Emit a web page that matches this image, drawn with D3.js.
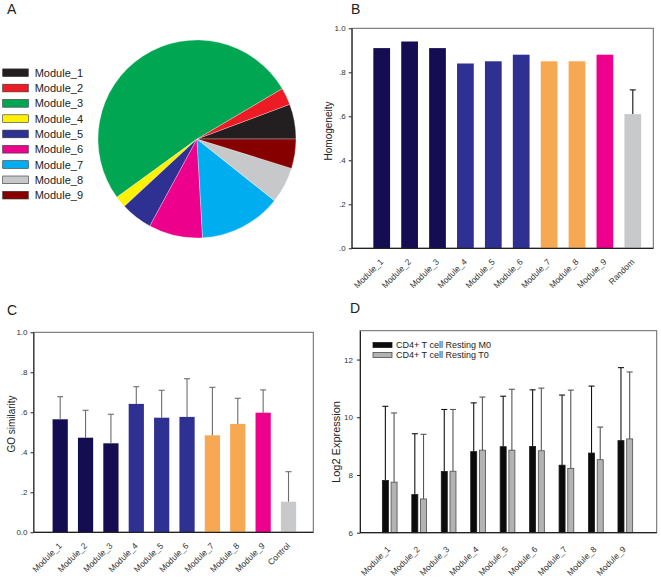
<!DOCTYPE html>
<html>
<head>
<meta charset="utf-8">
<script src="https://cdn.jsdelivr.net/npm/d3@7"></script>
<style>
  body { margin: 0; background: #fff; }
  svg { font-family: "Liberation Sans", Arial, sans-serif; }
  .axis text { fill: #333; }
  .panel-label { font-size: 14px; fill: #222; }
  .ylab { font-size: 10px; fill: #222; }
</style>
</head>
<body>
<svg width="661" height="580"></svg>
<script>
// ---- data ----
const modules = ["Module_1", "Module_2", "Module_3", "Module_4", "Module_5",
                 "Module_6", "Module_7", "Module_8", "Module_9"];

// A: module sizes (share of the pie)
const moduleSizes = [57, 28, 515, 19, 52, 88, 134, 59, 48];

// B: homogeneity
const homoCats = modules.concat(["Random"]);
const homoValues = [0.91, 0.94, 0.91, 0.84, 0.85, 0.88, 0.85, 0.85, 0.88, 0.61];
const homoErrTop = [null, null, null, null, null, null, null, null, null, 0.72];
const homoTicks = [0, 0.2, 0.4, 0.6, 0.8, 1.0];
const homoTickLabels = [".0", ".2", ".4", ".6", ".8", "1.0"];

// C: GO similarity
const goCats = modules.concat(["Control"]);
const goValues = [0.565, 0.473, 0.445, 0.642, 0.573, 0.577, 0.485, 0.542, 0.598, 0.153];
const goErrTop = [0.678, 0.61, 0.59, 0.728, 0.71, 0.768, 0.725, 0.67, 0.712, 0.303];
const goTicks = [0, 0.2, 0.4, 0.6, 0.8, 1.0];
const goTickLabels = ["0.0", ".2", ".4", ".6", ".8", "1.0"];

// D: log2 expression
const exprSeries = ["CD4+ T cell Resting M0", "CD4+ T cell Resting T0"];
const exprM0 = [7.81, 7.32, 8.12, 8.81, 8.98, 8.99, 8.34, 8.76, 9.19];
const exprM0Err = [10.38, 9.43, 10.27, 10.5, 10.73, 10.95, 10.77, 11.08, 11.72];
const exprT0 = [7.75, 7.17, 8.13, 8.86, 8.86, 8.84, 8.23, 8.53, 9.25];
const exprT0Err = [10.15, 9.41, 10.27, 10.7, 10.97, 11.01, 10.94, 9.66, 11.57];
const exprTicks = [6, 8, 10, 12];
const exprTickLabels = ["6", "8", "10", "12"];

// ---- styles ----
const pieColors = ["#231f20", "#ed1c24", "#00a651", "#fff200", "#2e3192",
                   "#ec008c", "#00aeef", "#c7c8ca", "#860000"];
const barColors = ["#150d52", "#150d52", "#150d52", "#2e3192", "#2e3192",
                   "#2e3192", "#f7a853", "#f7a853", "#ec008c", "#c8c9cb"];

const svg = d3.select("svg");

// ================= A : pie =================
svg.append("text").attr("class", "panel-label").attr("x", 7).attr("y", 14).text("A");

const pie = d3.pie().sort(null)
    .startAngle(Math.PI / 2)
    .endAngle(Math.PI / 2 - 2 * Math.PI);
const arc = d3.arc().innerRadius(0).outerRadius(99);

const gPie = svg.append("g").attr("transform", "translate(197,139)");
gPie.selectAll("path")
    .data(pie(moduleSizes))
    .enter()
    .append("path")
        .attr("d", arc)
        .attr("fill", (d, i) => pieColors[i])
        .attr("stroke", "#fff")
        .attr("stroke-width", 0.3);

const legA = svg.append("g");
const legRow = legA.selectAll("g")
    .data(modules)
    .enter()
    .append("g")
        .attr("transform", (d, i) => "translate(0," + (72.8 + i * 15.3) + ")");
legRow.append("rect")
    .attr("x", 2.7).attr("y", -3.9)
    .attr("width", 25.6).attr("height", 7.7)
    .attr("fill", (d, i) => pieColors[i])
    .attr("stroke", "#333").attr("stroke-width", 0.6);
legRow.append("text")
    .attr("x", 34.7).attr("y", 3.9)
    .style("font-size", "11px").style("fill", "#222")
    .text(d => d);

// ================= bar panels B and C =================
function barPanel(o) {
    const x = d3.scaleBand()
        .domain(o.cats)
        .range(o.xRange)
        .paddingInner(0.4)
        .paddingOuter(0.2);
    const y = d3.scaleLinear()
        .domain([0, 1])
        .range([o.bottom, o.top]);

    const g = svg.append("g");

    // frame
    g.append("rect")
        .attr("x", o.left).attr("y", o.top)
        .attr("width", o.right - o.left).attr("height", o.bottom - o.top)
        .attr("fill", "none").attr("stroke", "#666").attr("stroke-width", 1);

    g.selectAll(".bar")
        .data(o.values)
        .enter()
        .append("rect")
            .attr("class", "bar")
            .attr("x", (d, i) => x(o.cats[i]))
            .attr("width", x.bandwidth())
            .attr("y", d => y(d))
            .attr("height", d => y(0) - y(d))
            .attr("fill", (d, i) => barColors[i]);

    // error bars (upper only)
    const errs = o.errTop.map((e, i) => ({ e: e, v: o.values[i], c: o.cats[i] }))
        .filter(d => d.e != null);
    const eg = g.selectAll(".err")
        .data(errs)
        .enter()
        .append("g")
            .attr("class", "err")
            .attr("stroke", o.errColor)
            .attr("stroke-width", 1.1);
    eg.append("line")
        .attr("x1", d => x(d.c) + x.bandwidth() / 2)
        .attr("x2", d => x(d.c) + x.bandwidth() / 2)
        .attr("y1", d => y(d.v))
        .attr("y2", d => y(d.e));
    eg.append("line")
        .attr("x1", d => x(d.c) + x.bandwidth() / 2 - 3)
        .attr("x2", d => x(d.c) + x.bandwidth() / 2 + 3)
        .attr("y1", d => y(d.e))
        .attr("y2", d => y(d.e));

    // y axis
    g.append("g")
        .attr("class", "axis")
        .attr("transform", "translate(" + o.left + ",0)")
        .call(d3.axisLeft(y)
            .tickValues(o.ticks)
            .tickFormat((d, i) => o.tickLabels[i])
            .tickSize(3)
            .tickSizeOuter(0)
            .tickPadding(3))
        .call(a => a.select(".domain").attr("stroke", "#222"))
        .call(a => a.selectAll("line").attr("stroke", "#222"))
        .selectAll("text").style("font-size", "8px");

    // x axis
    const xa = g.append("g")
        .attr("class", "axis")
        .attr("transform", "translate(0," + o.bottom + ")")
        .call(d3.axisBottom(x).tickSize(0).tickSizeOuter(0));
    xa.select(".domain").remove();
    xa.selectAll("text")
        .style("font-size", "8.5px")
        .attr("y", 0).attr("dy", "0.35em")
        .attr("text-anchor", "end")
        .attr("transform", "translate(0,12) rotate(-45)");
    g.append("line")
        .attr("x1", o.left).attr("x2", o.right)
        .attr("y1", o.bottom).attr("y2", o.bottom)
        .attr("stroke", "#222").attr("stroke-width", 1.2);

    // axis title
    g.append("text")
        .attr("class", "ylab")
        .attr("text-anchor", "middle")
        .attr("transform", "translate(" + o.titleX + "," + o.titleY + ") rotate(-90)")
        .attr("dy", "0.35em")
        .text(o.title);
}

svg.append("text").attr("class", "panel-label").attr("x", 351).attr("y", 14).text("B");
barPanel({
    cats: homoCats, values: homoValues, errTop: homoErrTop,
    ticks: homoTicks, tickLabels: homoTickLabels,
    left: 351.7, right: 653.3, top: 28.3, bottom: 248.3,
    xRange: [367.75, 646.75],
    errColor: "#111",
    title: "Homogeneity", titleX: 328, titleY: 131
});

svg.append("text").attr("class", "panel-label").attr("x", 7).attr("y", 315).text("C");
barPanel({
    cats: goCats, values: goValues, errTop: goErrTop,
    ticks: goTicks, tickLabels: goTickLabels,
    left: 33.5, right: 313.3, top: 332.3, bottom: 532.3,
    xRange: [47.5, 301.2],
    errColor: "#6d6d6d",
    title: "GO similarity", titleX: 11, titleY: 424
});

// ================= D : grouped bars =================
svg.append("text").attr("class", "panel-label").attr("x", 350).attr("y", 313).text("D");
(function () {
    const left = 360, right = 656.7, top = 330.7, bottom = 532.7;
    const x0 = d3.scaleBand()
        .domain(modules)
        .range([375, 640.05])
        .paddingInner(0.4)
        .paddingOuter(0.2);
    const x1 = d3.scaleBand()
        .domain(exprSeries)
        .range([0, x0.bandwidth()])
        .paddingInner(0.31)
        .paddingOuter(0.17);
    const y = d3.scaleLinear().domain([6, 13]).range([bottom, top]);

    const fills = ["#0b0b0b", "#b3b3b3"];
    const strokes = ["#1a1a1a", "#4d4d4d"];
    const errStroke = ["#111", "#555"];

    const g = svg.append("g");
    g.append("rect")
        .attr("x", left).attr("y", top)
        .attr("width", right - left).attr("height", bottom - top)
        .attr("fill", "none").attr("stroke", "#666").attr("stroke-width", 1);

    const rows = modules.map((m, i) => [
        { m: m, s: exprSeries[0], k: 0, v: exprM0[i], e: exprM0Err[i] },
        { m: m, s: exprSeries[1], k: 1, v: exprT0[i], e: exprT0Err[i] }
    ]);
    const grp = g.selectAll(".grp")
        .data(rows)
        .enter()
        .append("g")
            .attr("class", "grp")
            .attr("transform", d => "translate(" + x0(d[0].m) + ",0)");
    const item = grp.selectAll("g")
        .data(d => d)
        .enter()
        .append("g");
    item.append("line")
        .attr("x1", d => x1(d.s) + x1.bandwidth() / 2)
        .attr("x2", d => x1(d.s) + x1.bandwidth() / 2)
        .attr("y1", d => y(d.v)).attr("y2", d => y(d.e))
        .attr("stroke", d => errStroke[d.k]).attr("stroke-width", 1.1);
    item.append("line")
        .attr("x1", d => x1(d.s) + x1.bandwidth() / 2 - 3)
        .attr("x2", d => x1(d.s) + x1.bandwidth() / 2 + 3)
        .attr("y1", d => y(d.e)).attr("y2", d => y(d.e))
        .attr("stroke", d => errStroke[d.k]).attr("stroke-width", 1.1);
    item.append("rect")
        .attr("x", d => x1(d.s))
        .attr("width", x1.bandwidth())
        .attr("y", d => y(d.v))
        .attr("height", d => y(6) - y(d.v))
        .attr("fill", d => fills[d.k])
        .attr("stroke", d => strokes[d.k])
        .attr("stroke-width", 0.8);

    g.append("g")
        .attr("class", "axis")
        .attr("transform", "translate(" + left + ",0)")
        .call(d3.axisLeft(y)
            .tickValues(exprTicks)
            .tickFormat((d, i) => exprTickLabels[i])
            .tickSize(3)
            .tickSizeOuter(0)
            .tickPadding(4))
        .call(a => a.select(".domain").attr("stroke", "#222"))
        .call(a => a.selectAll("line").attr("stroke", "#222"))
        .selectAll("text").style("font-size", "8px");

    const xa = g.append("g")
        .attr("class", "axis")
        .attr("transform", "translate(0," + bottom + ")")
        .call(d3.axisBottom(x0).tickSize(0).tickSizeOuter(0));
    xa.select(".domain").remove();
    xa.selectAll("text")
        .style("font-size", "8.5px")
        .attr("y", 0).attr("dy", "0.35em")
        .attr("text-anchor", "end")
        .attr("transform", "translate(-1,15) rotate(-45)");
    g.append("line")
        .attr("x1", left).attr("x2", right)
        .attr("y1", bottom).attr("y2", bottom)
        .attr("stroke", "#222").attr("stroke-width", 1.2);

    g.append("text")
        .attr("class", "ylab")
        .style("font-size", "11px")
        .attr("text-anchor", "middle")
        .attr("transform", "translate(336,442) rotate(-90)")
        .attr("dy", "0.35em")
        .text("Log2 Expression");

    // legend
    const leg = g.selectAll(".leg")
        .data(exprSeries)
        .enter()
        .append("g")
            .attr("class", "leg")
            .attr("transform", (d, i) => "translate(0," + (345 + i * 10) + ")");
    leg.append("rect")
        .attr("x", 373).attr("y", -2.5)
        .attr("width", 19).attr("height", 5)
        .attr("fill", (d, i) => fills[i])
        .attr("stroke", (d, i) => strokes[i]).attr("stroke-width", 0.8);
    leg.append("text")
        .attr("x", 396).attr("y", 3.2)
        .style("font-size", "9px").style("fill", "#222")
        .text(d => d);
})();
</script>
</body>
</html>
